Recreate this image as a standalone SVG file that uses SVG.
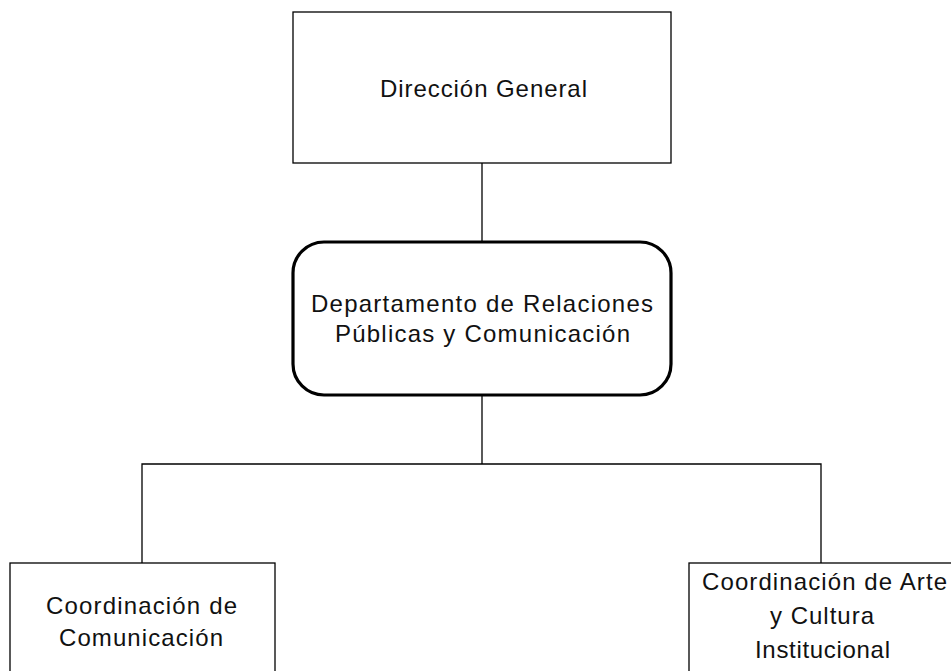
<svg xmlns="http://www.w3.org/2000/svg" width="951" height="671" viewBox="0 0 951 671">
<style>
.box{fill:#fff;stroke:#000;stroke-width:1.3}
.rbox{fill:#fff;stroke:#000;stroke-width:3.2}
.line{fill:none;stroke:#000;stroke-width:1.3}
text{font-family:"Liberation Sans",Arial,sans-serif;font-size:24px;fill:#111;text-anchor:middle}
</style>
<rect width="951" height="671" fill="#fff"/>
<g id="connectors">
<line class="line" x1="482" y1="163" x2="482" y2="242"/>
<line class="line" x1="482" y1="395" x2="482" y2="464"/>
<polyline class="line" points="142,563 142,464 821,464 821,563"/>
</g>
<g id="direccion-general">
<rect class="box" x="293" y="12" width="378" height="151"/>
<text x="483.5" y="97" textLength="207" lengthAdjust="spacing">Dirección General</text>
</g>
<g id="departamento">
<rect class="rbox" x="293" y="242" width="378" height="153" rx="31" ry="31"/>
<text x="482" y="312" textLength="342" lengthAdjust="spacing">Departamento de Relaciones</text>
<text x="482.5" y="342" textLength="295" lengthAdjust="spacing">Públicas y Comunicación</text>
</g>
<g id="coord-comunicacion">
<rect class="box" x="10" y="563" width="265" height="160"/>
<text x="141.5" y="614" textLength="191" lengthAdjust="spacing">Coordinación de</text>
<text x="141" y="646" textLength="164" lengthAdjust="spacing">Comunicación</text>
</g>
<g id="coord-arte">
<rect class="box" x="689" y="563" width="270" height="160"/>
<text x="824.5" y="590" textLength="245" lengthAdjust="spacing">Coordinación de Arte</text>
<text x="822" y="624" textLength="104" lengthAdjust="spacing">y Cultura</text>
<text x="822.5" y="658" textLength="135" lengthAdjust="spacing">Institucional</text>
</g>
</svg>
